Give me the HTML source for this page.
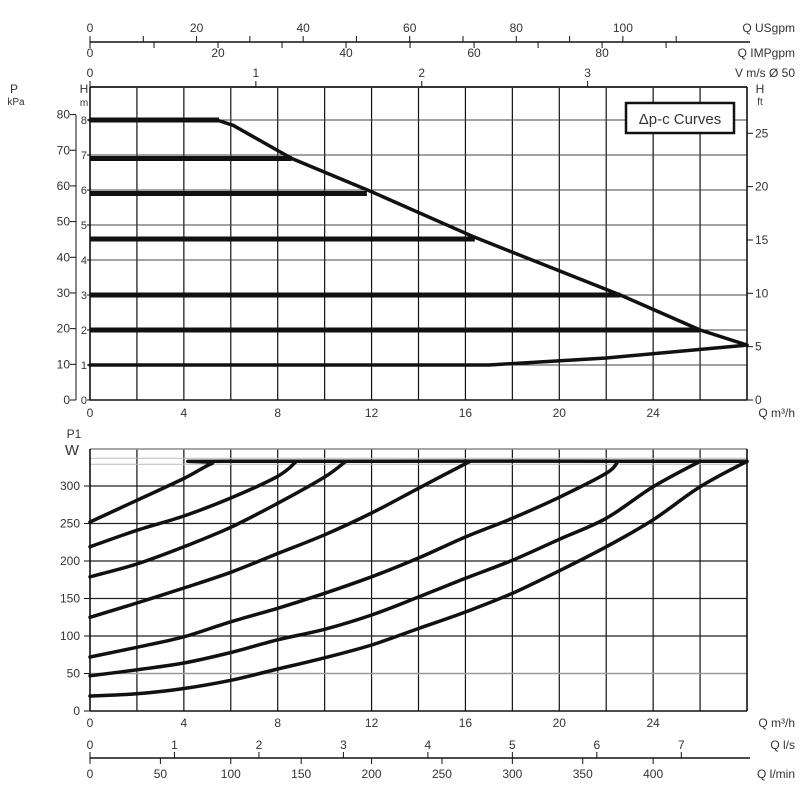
<!DOCTYPE html>
<html><head><meta charset="utf-8"><style>
html,body{margin:0;padding:0;background:#fff}
svg{display:block}
text{font-family:"Liberation Sans",sans-serif;fill:#333;font-size:12px}
</style></head><body>
<svg id="chart" width="800" height="800" viewBox="0 0 800 800" xmlns="http://www.w3.org/2000/svg">
<g id="g"></g>
<rect x="626" y="103" width="108" height="30" fill="#fff" stroke="#111" stroke-width="2.5"/>
<text x="680" y="124" text-anchor="middle" font-size="15" style="font-size:15px">Δp-c Curves</text>
</svg>
<script>
// ---- data ----
const headLevels = [8, 6.9, 5.9, 4.6, 3, 2];
const headBarEnds = [5.5, 8.6, 11.8, 16.4, 22.6, 26];
const envelopeQ = [0, 5.4, 6.1, 8.6, 12, 16.4, 22.6, 26, 28];
const envelopeH = [8, 8, 7.85, 6.9, 5.95, 4.65, 3, 2, 1.57];
const minQ = [0, 17, 22, 28];
const minH = [1, 1, 1.2, 1.57];
const powerQ = [
 [0,2,4,5.2,6,28],
 [0,2,4,6,8,8.8],
 [0,2,4,6,8,10,10.9],
 [0,2,4,6,8,10,12,14,16.2],
 [0,2,4,6,8,10,12,14,16,18,20,22,22.5],
 [0,2,4,6,8,10,12,14,16,18,20,22,24,26],
 [0,2,4,6,8,10,12,14,16,18,20,22,24,26,28]
];
const powerW = [
 [252,281,310,330,333,333],
 [219,241,260,284,313,333],
 [179,196,219,245,277,312,333],
 [125,144,164,185,210,235,264,297,333],
 [72,85,99,119,137,157,179,204,232,257,285,317,333],
 [47,55,64,78,95,109,128,152,177,201,229,257,299,333],
 [20,23,30,41,56,71,88,110,132,157,187,219,255,299,333]
];
const qTicks = [0,4,8,12,16,20,24];
const hTicks = [0,1,2,3,4,5,6,7,8];
const kpaTicks = [0,10,20,30,40,50,60,70,80];
const ftTicks = [0,5,10,15,20,25];
const wTicks = [0,50,100,150,200,250,300];
const usTicks = [0,20,40,60,80,100];
const impTicks = [0,20,40,60,80];
const vTicks = [0,1,2,3];
const lsTicks = [0,1,2,3,4,5,6,7];
const lminTicks = [0,50,100,150,200,250,300,350,400];

// ---- scales ----
const X0=90, X1=747, QMAX=28;
const xq = q => X0 + q*(X1-X0)/QMAX;
const yh = h => 400 - h*35;
const ykpa = p => yh(p/9.81);
const yft = f => yh(f*0.3048);
const yw = w => 711 - w*0.75;
const NS='http://www.w3.org/2000/svg';
const g=document.getElementById('g');
function mk(tag, attrs, name){const e=document.createElementNS(NS,tag);for(const k in attrs)e.setAttribute(k,attrs[k]);
 
 
 g.appendChild(e);return e;}
function line(x1,y1,x2,y2,sw,col,name){return mk('line',{x1,y1,x2,y2,stroke:col||'#111','stroke-width':sw||1},name);}
function txt(x,y,s,anchor,name,size){const t=mk('text',{x,y,'text-anchor':anchor||'middle'},name);if(size)t.setAttribute('style','font-size:'+size+'px');t.textContent=s;return t;}
function path(qs,vs,fy,sw,name){let d='';qs.forEach((q,i)=>{d+=(i?'L':'M')+xq(q).toFixed(1)+','+fy(vs[i]).toFixed(1);});
 return mk('path',{d,fill:'none',stroke:'#111','stroke-width':sw,'stroke-linejoin':'round','stroke-linecap':'round'},name);}
function smooth(qs,vs,fy,sw,name){
 const P=qs.map((q,i)=>[xq(q),fy(vs[i])]);
 let d='M'+P[0][0].toFixed(1)+','+P[0][1].toFixed(1);
 for(let i=0;i<P.length-1;i++){
  const p0=P[Math.max(0,i-1)],p1=P[i],p2=P[i+1],p3=P[Math.min(P.length-1,i+2)];
  const c1=[p1[0]+(p2[0]-p0[0])/6,p1[1]+(p2[1]-p0[1])/6];
  const c2=[p2[0]-(p3[0]-p1[0])/6,p2[1]-(p3[1]-p1[1])/6];
  d+='C'+c1[0].toFixed(1)+','+c1[1].toFixed(1)+' '+c2[0].toFixed(1)+','+c2[1].toFixed(1)+' '+p2[0].toFixed(1)+','+p2[1].toFixed(1);
 }
 return mk('path',{d,fill:'none',stroke:'#111','stroke-width':sw,'stroke-linejoin':'round','stroke-linecap':'round'},name);}

// ---- upper chart ----
const UT=87;
for(let q=0;q<=QMAX;q+=2) line(xq(q),UT,xq(q),400,1.2,'#111','upper-vgrid');
hTicks.forEach(h=>{ if(h>0) line(X0,yh(h),X1,yh(h),1,'#444','upper-hgrid'); });
line(X0,UT,X1,UT,2,'#333','upper-top-border');
line(X0,400,X1,400,1.5,'#111','upper-x-axis');
line(X0,UT,X0,400,1.5,'#111','upper-left-border');
line(X1,UT,X1,400,1.5,'#111','upper-right-border');
// H m axis
txt(84,93,'H','middle','h-axis-title');
txt(84,106,'m','middle','h-axis-unit',10);
hTicks.forEach(h=>{txt(87,yh(h)+4,String(h),'end','h-tick-label',11);line(87,yh(h),X0,yh(h),1,'#111','h-tick');});
// kPa axis
line(76,115,76,400,1,'#111','kpa-axis');
txt(14,93,'P','middle','kpa-axis-title');
txt(16,105,'kPa','middle','kpa-axis-unit',10);
kpaTicks.forEach(p=>{txt(70,ykpa(p)+4,String(p),'end','kpa-tick-label');line(70,ykpa(p),76,ykpa(p),1,'#111','kpa-tick');});
// ft axis
txt(760,93,'H','middle','ft-axis-title');
txt(760,105,'ft','middle','ft-axis-unit',10);
ftTicks.forEach(f=>{line(X1,yft(f),X1+6,yft(f),1,'#111','ft-tick');txt(755,yft(f)+4,String(f),'start','ft-tick-label');});
// Q axis upper
qTicks.forEach(q=>txt(xq(q),417,String(q),'middle','upper-q-tick-label'));
txt(795,417,'Q m³/h','end','upper-q-axis-title');
// curves
headLevels.forEach((h,i)=>{mk('line',{x1:xq(0),y1:yh(h),x2:xq(headBarEnds[i]),y2:yh(h),stroke:'#111','stroke-width':5},'head-level-'+h);});
path(envelopeQ,envelopeH,yh,3.5,'max-head-envelope');
path(minQ,minH,yh,3.5,'min-head-curve');

// ---- top axes ----
const yUS=42;
line(X0,yUS,X1+3,yUS,1.5,'#111','usgpm-axis');
for(let v=0;v<=110;v+=10){const x=xq(v*0.2271);line(x,yUS-6,x,yUS,1,'#111','usgpm-tick');}
usTicks.forEach(v=>txt(xq(v*0.2271),32,String(v),'middle','usgpm-tick-label'));
txt(795,32,'Q USgpm','end','usgpm-axis-title');
for(let v=0;v<=90;v+=10){const x=xq(v*0.2728);line(x,yUS,x,yUS+6,1,'#111','impgpm-tick');}
impTicks.forEach(v=>txt(xq(v*0.2728),57,String(v),'middle','impgpm-tick-label'));
txt(795,57,'Q IMPgpm','end','impgpm-axis-title');
vTicks.forEach(v=>{const x=xq(v*7.069);txt(x,77,String(v),'middle','velocity-tick-label');line(x,UT-6,x,UT,1,'#111','velocity-tick');});
txt(795,77,'V m/s Ø 50','end','velocity-axis-title');

// ---- lower chart ----
const LT=449;
for(let q=0;q<=QMAX;q+=2) line(xq(q),LT,xq(q),711,1.2,'#111','lower-vgrid');
wTicks.forEach(w=>{ if(w>0) line(X0,yw(w),X1,yw(w),w===50?1.5:1.2,w===50?'#999':'#222','lower-hgrid'); });
line(X0,LT,X1,LT,1.5,'#888','lower-top-border');
line(X0,yw(333)-3,X1,yw(333)-3,1,'#bbb','max-power-band-top');
line(X0,yw(333)+3,X1,yw(333)+3,1,'#bbb','max-power-band-bottom');
line(X0,711,X1,711,1.5,'#111','lower-x-axis');
line(X0,LT,X0,711,1.5,'#111','lower-left-border');
line(X1,LT,X1,711,1.5,'#111','lower-right-border');
txt(74,438,'P1','middle','p1-axis-title');
txt(72,455,'W','middle','p1-axis-unit',15);
wTicks.forEach(w=>{txt(80,yw(w)+4,String(w),'end','w-tick-label');line(84,yw(w),X0,yw(w),1,'#111','w-tick');});
qTicks.forEach(q=>txt(xq(q),727,String(q),'middle','lower-q-tick-label'));
txt(795,727,'Q m³/h','end','lower-q-axis-title');
powerQ.forEach((qs,i)=>smooth(qs,powerW[i],yw,3.5,'power-curve-'+(i+1)));

// ---- bottom axes ----
const yB=758;
line(X0,yB,X1+3,yB,1.5,'#111','flow-bottom-axis');
lsTicks.forEach(v=>{const x=xq(v*3.6);line(x,yB-6,x,yB,1,'#111','ls-tick');txt(x,749,String(v),'middle','ls-tick-label');});
txt(795,749,'Q l/s','end','ls-axis-title');
lminTicks.forEach(v=>{const x=xq(v*0.06);line(x,yB,x,yB+6,1,'#111','lmin-tick');txt(x,778,String(v),'middle','lmin-tick-label');});
txt(795,778,'Q l/min','end','lmin-axis-title');
</script>
</body></html>
